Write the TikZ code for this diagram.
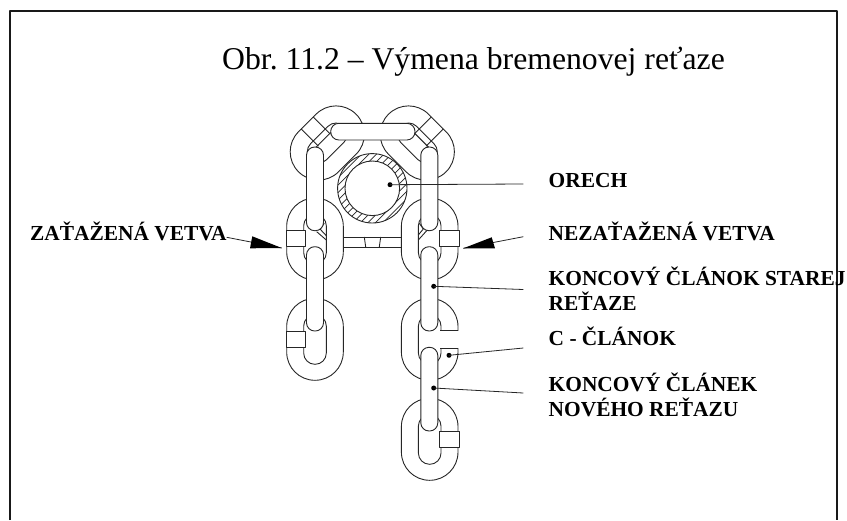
\documentclass[tikz,border=0pt]{standalone}
\usepackage{fontspec}
\setmainfont{Liberation Serif}
\begin{document}
\frenchspacing
\begin{tikzpicture}[x=1pt,y=-1pt,line join=round,
  part/.style={draw=black!85,line width=0.9pt,fill=white},
  edge/.style={draw=black!85,line width=0.9pt},
  leader/.style={draw=black!85,line width=0.8pt},
  spot/.style={circle,fill=black,inner sep=0pt,minimum size=5pt},
  headtip/.style={fill=black,draw=none},
  labeltext/.style={anchor=base west,inner sep=0pt,font=\fontsize{21.4}{21.4}\selectfont\bfseries},
  titletext/.style={anchor=base west,inner sep=0pt,font=\fontsize{31.7}{31.7}\selectfont}]
\useasboundingbox (0,0) rectangle (847,520);
% frame (open at the bottom)
\coordinate (fBL) at (9.5,520);\coordinate (fTL) at (9.5,11.3);
\coordinate (fTR) at (837.3,11.3);\coordinate (fBR) at (837.3,520);
\draw[line width=2pt,black!90] (fBL) -- (fTL) -- (fTR) -- (fBR);
% diagonal links
\foreach \cx/\rot/\sgn in {327.3/-45/1,417.3/45/-1}{
  \begin{scope}[shift={(\cx,143)},rotate=\rot,x={(\sgn*1pt,0pt)}]
    \draw[part,rounded corners=28.2pt] (-28.3,-40.7) rectangle (28.3,40.7);
    \draw[part,rounded corners=11.2pt] (-11.3,-23.5) rectangle (11.3,23.5);
    \draw[edge] (-28.3,-8.5) -- (-4,-8.5);
    \draw[edge] (-28.3,8.5) -- (-4,8.5);
    \draw[edge] (-5,-20) -- (-5,20);
  \end{scope}
}
% sprocket
\coordinate (sc) at (372.3,188.3);
\begin{scope}
  \clip (sc) circle (34.7pt);
  \fill[white] (sc) circle (34.7pt);
  \foreach \k in {-7,...,7}{
    \draw[edge,line width=0.7pt] (372.3+\k*3.75-60,188.3+\k*3.75+60) -- (372.3+\k*3.75+60,188.3+\k*3.75-60);
  }
\end{scope}
\draw[edge] (sc) circle (34.7pt);
\draw[part] (sc) circle (27.3pt);
% cross bar between the loaded links
\coordinate (bA) at (343.3,237);\coordinate (bB) at (401.7,237);
\coordinate (bC) at (343.3,247);\coordinate (bD) at (401.7,247);
\draw[edge] (bA) -- (bB) (bC) -- (bD);
\draw[edge] (364.3,237) -- (365.7,247) (380.7,237) -- (379.3,247);
% horizontal link
\draw[part,rounded corners=8.2pt] (330.7,123.3) rectangle (415,140);
% flat links
\foreach \cx/\ty in {315/198,429.7/198,315/298.3,429.7/298.3,429.7/398.3}{
  \draw[part,rounded corners=28.2pt] (\cx-28.3,\ty) rectangle (\cx+28.3,\ty+82);
  \draw[part,rounded corners=11.2pt] (\cx-11.3,\ty+16.5) rectangle (\cx+11.3,\ty+66);
}
% gap of the C link
\fill[white] (439,330.5) rectangle (460,347.8);
\draw[edge] (440,330) -- (458,330) (440,348.3) -- (458,348.3);
% weld bars
\draw[part] (286,230.7) rectangle (305,246.7);
\draw[part] (439.3,230.7) rectangle (459,246.7);
\draw[part] (286,331) rectangle (305,347);
\draw[part] (439.3,431.7) rectangle (459,447.3);
% small lines in the holes of the upper flat links
\draw[edge] (316.7,231.7) -- (326.3,240) (320,229) -- (326.3,235.7) (320,229) -- (324.3,223.3);
\draw[edge] (427.3,230) -- (418.3,240) (423.3,229) -- (418.3,235) (423.3,229) -- (419.3,223.3);
% edge-on links
\foreach \cx/\ty/\by in {315/147/230.7,429.3/147/230.7,315/246.7/331,429.3/246.7/331,429.3/347.3/431}{
  \draw[part,rounded corners=8.2pt] (\cx-8.5,\ty) rectangle (\cx+8.5,\by);
}
% title
\node[titletext] (title) at (222,69) {Obr. 11.2 – Výmena bremenovej reťaze};
% labels
\node[labeltext] (lorech) at (548.5,187) {ORECH};
\node[labeltext] (lnez) at (548.5,240) {NEZAŤAŽENÁ VETVA};
\node[labeltext] (lkon) at (548.5,285) {KONCOVÝ ČLÁNOK STAREJ};
\node[labeltext] (lret) at (548.5,310) {REŤAZE};
\node[labeltext] (lc) at (548.5,345.7) {C - ČLÁNOK};
\node[labeltext] (lnov) at (548.5,391) {KONCOVÝ ČLÁNEK};
\node[labeltext] (lnovb) at (548.5,416) {NOVÉHO REŤAZU};
\node[labeltext] (lzat) at (30,240) {ZAŤAŽENÁ VETVA};
% leaders
\node[spot] (d1) at (390,184.7) {};
\node[spot] (d2) at (433.7,286.3) {};
\node[spot] (d3) at (449,355.3) {};
\node[spot] (d4) at (433.7,388) {};
\coordinate (e1) at (523.3,184);\coordinate (e2) at (523.3,289.5);
\coordinate (e3) at (523.3,348);\coordinate (e4) at (523.3,393);
\draw[leader] (d1.center) -- (e1);
\draw[leader] (d2.center) -- (e2);
\draw[leader] (d3.center) -- (e3);
\draw[leader] (d4.center) -- (e4);
% load arrows
\coordinate (aLs) at (226.7,237.3);\coordinate (aLt) at (281.7,248);
\draw[leader] (aLs) -- (aLt);
\fill[headtip] (aLt) -- (252.3,236.3) -- (250,248.3) -- cycle;
\coordinate (aRs) at (523.3,236.7);\coordinate (aRt) at (463.3,248.3);
\draw[leader] (aRs) -- (aRt);
\fill[headtip] (aRt) -- (491.7,237.3) -- (495,248.3) -- cycle;
\end{tikzpicture}
\end{document}
